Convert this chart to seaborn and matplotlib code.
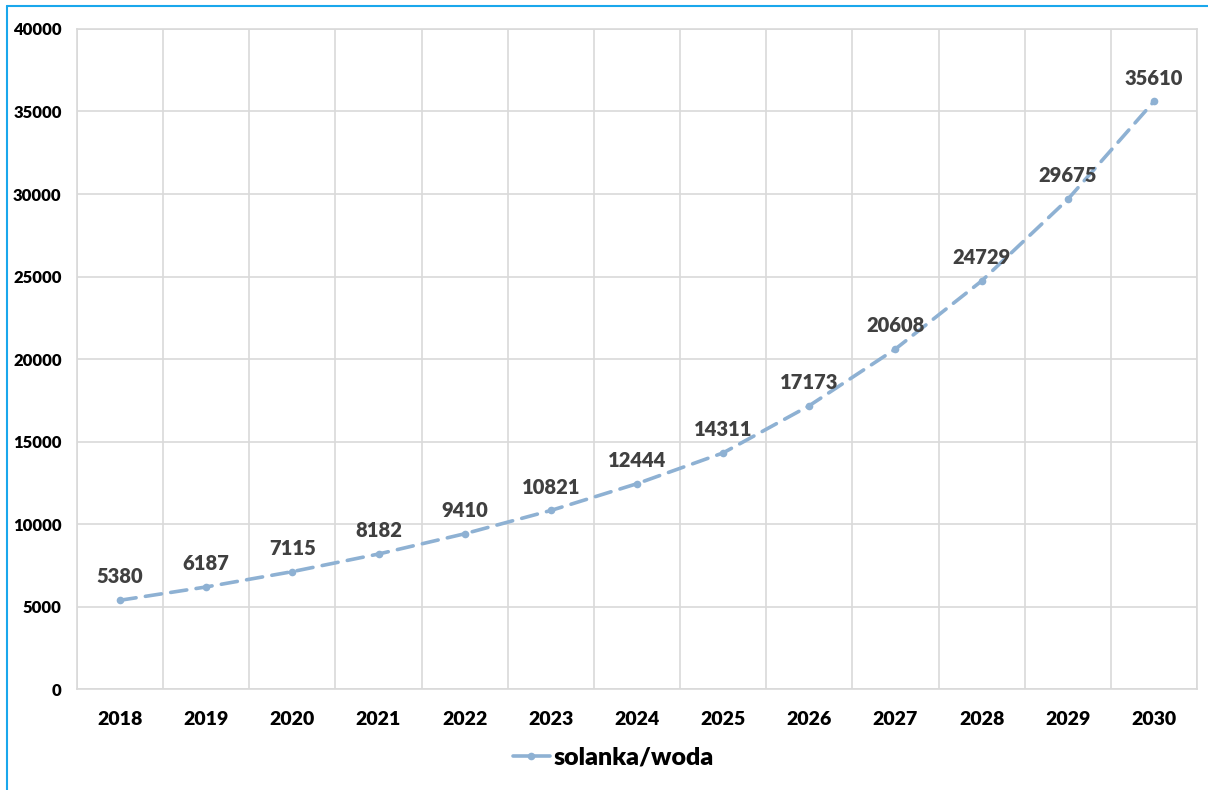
"""Line chart of solanka/woda forecast, 2018-2030."""

import numpy as np
import pandas as pd
import seaborn as sns
import matplotlib.pyplot as plt
from matplotlib.lines import Line2D

years = ['2018', '2019', '2020', '2021', '2022', '2023', '2024',
         '2025', '2026', '2027', '2028', '2029', '2030']
values = [5380, 6187, 7115, 8182, 9410, 10821, 12444,
          14311, 17173, 20608, 24729, 29675, 35610]
series_name = 'solanka/woda'
y_ticks = list(range(0, 40001, 5000))

# -----------------------------------------------------------------------------

sns.set_theme(style='white')
plt.rcParams['font.family'] = ['Lato', 'DejaVu Sans']

line_color = '#8EB1D3'
grid_color = '#D9D9D9'
weight = 'heavy'

df = pd.DataFrame({'year': years, 'value': values})

fig = plt.figure(figsize=(12.08, 7.90), dpi=100)
ax = fig.add_axes([0.0637, 0.1278, 0.9272, 0.8355])

sns.lineplot(data=df, x='year', y='value', ax=ax, color=line_color,
             linewidth=2.6, marker='o', markersize=5.5, markeredgewidth=0,
             label=series_name, sort=False)
line = ax.lines[0]
line.set_dashes([4.5, 2.6])
line.set_dash_capstyle('round')

# Data labels
for i, v in enumerate(values):
    ax.annotate(str(v), (i, v), xytext=(0, 10), textcoords='offset points',
                ha='center', va='bottom', fontsize=14.5, fontweight=weight,
                color='#404040')

ax.set_xlim(-0.5, len(years) - 0.5)
ax.set_ylim(0, 40000)
ax.set_yticks(y_ticks)
ax.set_yticklabels([str(t) for t in y_ticks], fontsize=12, fontweight=weight,
                   color='#000000')
ax.set_xticks(range(len(years)))
ax.set_xticklabels(years, fontsize=14, fontweight=weight, color='#000000')
ax.tick_params(axis='x', length=0, pad=16)
ax.tick_params(axis='y', length=0, pad=11)

# Vertical gridlines sit between categories
ax.set_xticks(np.arange(-0.5, len(years), 1.0), minor=True)
ax.tick_params(axis='x', which='minor', length=0)
ax.grid(axis='x', which='minor', color=grid_color, linewidth=1.2)
ax.grid(axis='y', which='major', color=grid_color, linewidth=1.2)
ax.grid(axis='x', which='major', visible=False)
for s in ax.spines.values():
    s.set_color(grid_color)
    s.set_linewidth(1.2)
ax.set_xlabel('')
ax.set_ylabel('')

leg = ax.legend(loc='center', bbox_to_anchor=(0.479, -0.1035), frameon=False,
                fontsize=18, handlelength=1.5, handletextpad=0.15,
                borderpad=0, borderaxespad=0)
for t in leg.get_texts():
    t.set_fontweight(weight)
    t.set_color('#000000')
for h in leg.get_lines():
    h.set_linestyle('-')

# Outer blue frame (left and top edges)
frame_color = '#1AA7EC'
fig.add_artist(Line2D([0.006, 0.006], [0.0, 0.9925], transform=fig.transFigure,
                      color=frame_color, linewidth=1.5))
fig.add_artist(Line2D([0.006, 1.0], [0.9925, 0.9925], transform=fig.transFigure,
                      color=frame_color, linewidth=1.5))

fig.savefig('out.png', dpi=100)
